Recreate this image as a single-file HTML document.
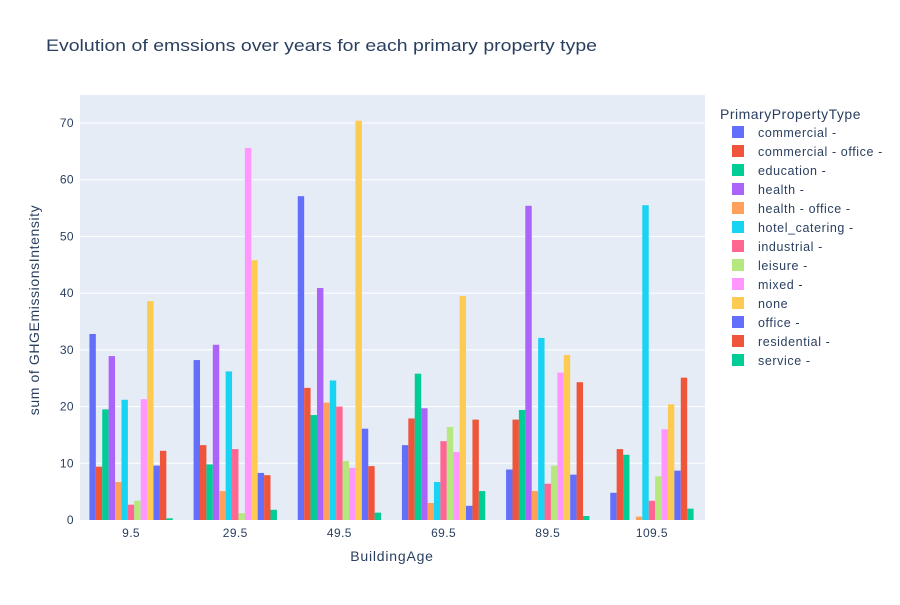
<!DOCTYPE html>
<html><head><meta charset="utf-8"><style>
body{margin:0;background:#fff;font-family:"Liberation Sans",sans-serif;}
svg text{font-family:"Liberation Sans",sans-serif;fill:#2a3f5f;}
</style></head><body>
<svg id="chart" width="900" height="600">
<rect width="900" height="600" fill="#fff"/>
<text x="46" y="51" font-size="17" textLength="551" lengthAdjust="spacingAndGlyphs">Evolution of emssions over years for each primary property type</text>
<rect x="80" y="95" width="625" height="425" fill="#e5ecf6"/>
<g id="grid"></g><g id="bars"></g><g id="xticks"></g><g id="yticks"></g><g id="legend"></g>
<text x="392" y="561" font-size="14" letter-spacing="0.8" text-anchor="middle">BuildingAge</text>
<text transform="translate(39,310) rotate(-90)" font-size="14" letter-spacing="0.6" text-anchor="middle">sum of GHGEmissionsIntensity</text>
<text x="720" y="119" font-size="14" letter-spacing="0.5">PrimaryPropertyType</text>
</svg>
<script>
const categories=["9.5","29.5","49.5","69.5","89.5","109.5"];
const seriesNames=["commercial -","commercial - office -","education -","health -","health - office -","hotel_catering -","industrial -","leisure -","mixed -","none","office -","residential -","service -"];
const commercial=[32.8,28.2,57.1,13.2,8.9,4.8];
const commercialOffice=[9.4,13.2,23.3,17.9,17.7,12.5];
const education=[19.5,9.8,18.5,25.8,19.4,11.5];
const health=[28.9,30.9,40.9,19.7,55.4,0];
const healthOffice=[6.7,5.1,20.7,3.0,5.1,0.6];
const hotelCatering=[21.2,26.2,24.6,6.7,32.1,55.5];
const industrial=[2.7,12.5,20.0,13.9,6.4,3.4];
const leisure=[3.4,1.2,10.4,16.4,9.6,7.7];
const mixed=[21.3,65.6,9.2,12.0,26.0,16.0];
const none=[38.6,45.8,70.4,39.5,29.1,20.4];
const office=[9.6,8.3,16.1,2.5,8.0,8.7];
const residential=[12.2,7.9,9.5,17.7,24.3,25.1];
const service=[0.3,1.8,1.3,5.1,0.7,2.0];
const yTicks=[0,10,20,30,40,50,60,70];
const series=[commercial,commercialOffice,education,health,healthOffice,hotelCatering,industrial,leisure,mixed,none,office,residential,service];
const colors=["#636efa","#EF553B","#00cc96","#ab63fa","#FFA15A","#19d3f3","#FF6692","#B6E880","#FF97FF","#FECB52","#636efa","#EF553B","#00cc96"];
const NS="http://www.w3.org/2000/svg";
const x0=79,x1=704,y0=520,yTop=123,yMaxV=70;
const band=(x1-x0)/categories.length;
const xC=i=>x0+band*(i+0.5);
const yS=v=>y0-(v/yMaxV)*(y0-yTop);
function mk(t,a,p){const e=document.createElementNS(NS,t);for(const k in a)e.setAttribute(k,a[k]);p.appendChild(e);return e;}
const grid=document.getElementById('grid'),yt=document.getElementById('yticks'),xt=document.getElementById('xticks'),bars=document.getElementById('bars'),lg=document.getElementById('legend');
yTicks.forEach(v=>{
 if(v>0){const l=mk('line',{x1:80,x2:705,y1:yS(v),y2:yS(v),stroke:'#fff','stroke-width':1},grid);
 
 }
 const t=mk('text',{x:74,y:yS(v)+4,'font-size':12,'letter-spacing':0.4,'text-anchor':'end'},yt);t.textContent=v;
 
 
});
categories.forEach((c,i)=>{
 const t=mk('text',{x:xC(i),y:537,'font-size':12,'letter-spacing':0.4,'text-anchor':'middle'},xt);t.textContent=c;
 
 
});
const gw=band*0.8,bw=gw/series.length;
series.forEach((s,j)=>{
 s.forEach((v,i)=>{
  const x=xC(i)-gw/2+bw*j;
  const r=mk('rect',{x:x,y:yS(v),width:bw,height:y0-yS(v),fill:colors[j]},bars);
  
  
 });
 const ly=132+j*19;
 const g=mk('g',{},lg);
 
 
 mk('rect',{x:732,y:ly-6,width:12,height:12,fill:colors[j]},g);
 const t=mk('text',{x:758,y:ly+5,'font-size':12.5,'letter-spacing':0.6},g);t.textContent=seriesNames[j];
});
</script>
</body></html>
